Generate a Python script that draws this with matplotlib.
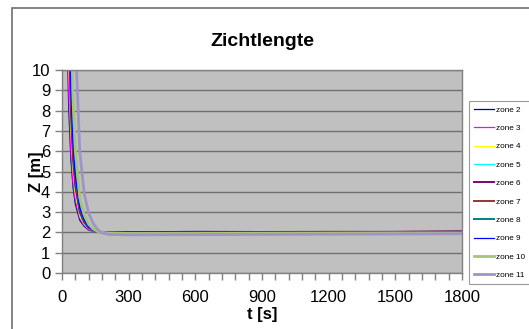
import matplotlib.pyplot as plt
from matplotlib.patches import Rectangle

plt.rcParams['font.family'] = ['Liberation Sans', 'DejaVu Sans']

# tijdstippen [s] en zichtlengte per zone [m]
t = [10, 20, 30, 40, 50, 60, 80, 100, 120, 140, 160, 180, 210, 300, 600, 900, 1200, 1500, 1800]

zones = ['zone 2', 'zone 3', 'zone 4', 'zone 5', 'zone 6',
         'zone 7', 'zone 8', 'zone 9', 'zone 10', 'zone 11']

z2 = [30, 14, 8.2, 5.6, 4.2, 3.4, 2.6, 2.3, 2.12, 2.05, 2.02, 2.0, 2.0, 2.0, 2.01, 2.01, 2.02, 2.04, 2.06]
z3 = [32, 16, 9.0, 6.0, 4.4, 3.6, 2.7, 2.35, 2.15, 2.06, 2.02, 2.0, 1.99, 1.99, 2.0, 2.0, 2.01, 2.02, 2.02]
z4 = [34, 18, 10.5, 7.0, 5.0, 3.9, 2.8, 2.4, 2.18, 2.07, 2.02, 2.0, 1.98, 1.98, 1.99, 1.99, 2.0, 2.0, 2.01]
z5 = [36, 20, 11.5, 7.6, 5.3, 4.1, 2.9, 2.45, 2.2, 2.08, 2.03, 2.0, 1.97, 1.96, 1.97, 1.97, 1.98, 1.99, 2.0]
z6 = [38, 22, 12.5, 8.0, 5.6, 4.3, 3.0, 2.5, 2.22, 2.1, 2.03, 2.0, 1.99, 2.0, 2.03, 2.02, 2.02, 2.02, 2.03]
z7 = [40, 24, 13.5, 8.6, 6.0, 4.6, 3.1, 2.55, 2.25, 2.1, 2.04, 2.01, 2.0, 2.0, 2.01, 2.02, 2.03, 2.03, 2.04]
z8 = [42, 25, 14.5, 9.2, 6.4, 4.8, 3.2, 2.6, 2.28, 2.12, 2.04, 2.01, 1.99, 1.98, 1.99, 2.0, 2.0, 2.0, 2.0]
z9 = [40, 24, 14, 9.0, 6.3, 4.8, 3.2, 2.6, 2.27, 2.11, 2.04, 2.02, 2.01, 2.01, 2.0, 2.01, 2.02, 2.03, 2.04]
z10 = [50, 32, 20, 12.5, 8.4, 6.0, 3.7, 2.85, 2.4, 2.17, 2.05, 2.0, 1.97, 1.95, 1.95, 1.96, 1.97, 1.98, 1.98]
z11 = [70, 50, 36, 26, 17, 11.5, 6.0, 3.9, 2.95, 2.45, 2.15, 1.98, 1.9, 1.88, 1.89, 1.9, 1.91, 1.92, 1.93]

series = [z2, z3, z4, z5, z6, z7, z8, z9, z10, z11]
colors = ['#000080', '#FF00FF', '#FFFF00', '#00FFFF', '#800080',
          '#993333', '#008080', '#0000FF', '#A6C47A', '#A094C4']
widths = [0.9, 0.9, 0.9, 0.9, 1.4, 1.4, 1.4, 0.9, 2.0, 2.0]

fig = plt.figure(figsize=(5.29, 3.29), dpi=100)
ax = fig.add_axes([62 / 529, 1 - 273 / 329, 400 / 529, 203 / 329])

# rand om het grafiekgebied
fig.patches.append(Rectangle((12 / 529, -0.1), 1.2, 1 - 8 / 329 + 0.1,
                             transform=fig.transFigure, fill=False,
                             edgecolor='#707070', linewidth=1.2))

ax.set_facecolor('#C0C0C0')
for s in ax.spines.values():
    s.set_color('#808080')
    s.set_linewidth(1.0)

for y, name, c, lw in zip(series, zones, colors, widths):
    ax.plot(t, y, color=c, linewidth=lw, label=name)

ax.set_xlim(0, 1800)
ax.set_ylim(0, 10)
ax.set_xticks(range(0, 1801, 300))
ax.set_xticks(range(0, 1801, 60), minor=True)
ax.set_yticks(range(0, 11))
ax.yaxis.grid(True, color='#707070', linewidth=1.0)
ax.tick_params(axis='both', which='both', direction='out', color='#808080',
               labelsize=12, length=5, width=1)
ax.tick_params(axis='x', which='major', pad=7)

ax.set_title('Zichtlengte', fontsize=14, fontweight='bold', pad=17)
ax.set_xlabel('t [s]', fontsize=12, fontweight='bold', labelpad=2)
ax.set_ylabel('Z [m]', fontsize=12, fontweight='bold', labelpad=-9)

leg = ax.legend(loc='upper left', bbox_to_anchor=(469 / 529, 1 - 101 / 329),
                bbox_transform=fig.transFigure, fontsize=5.9, frameon=True,
                fancybox=False, edgecolor='#808080', handlelength=2.5,
                handletextpad=0.25, labelspacing=1.3, borderpad=0.6,
                borderaxespad=0)
leg.get_frame().set_linewidth(0.8)

fig.savefig('out.png', dpi=100)
